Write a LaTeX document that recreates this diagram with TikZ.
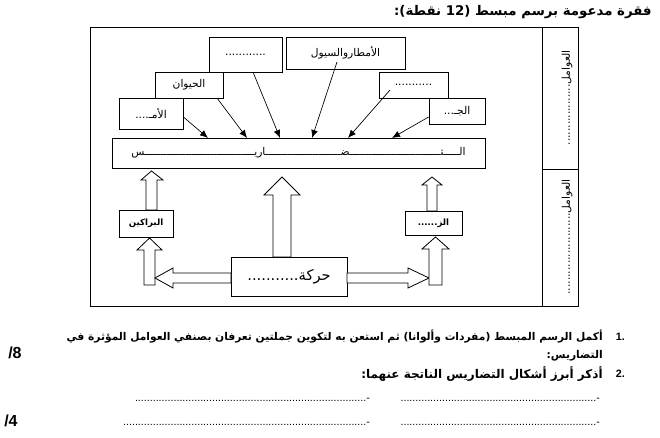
\documentclass[tikz,border=0pt]{standalone}
\usepackage{fontspec}
\setmainfont{Liberation Sans}
\newfontfamily\ar[Script=Arabic]{DejaVu Sans}
\TeXXeTstate=1
\usetikzlibrary{arrows.meta}
\newcount\dcnt
\newcommand\rdots[1]{\dcnt=0 \loop\ifnum\dcnt<#1 .\advance\dcnt by 1 \repeat}
\def\tatA{ـ}
\def\tatE{ـــــ}
\begin{document}
\begin{tikzpicture}[x=0.75pt,y=-0.75pt,
  frame/.style={line width=0.6pt},
  box/.style={draw, line width=0.6pt, fill=white, inner sep=0pt, font=\ar\fontsize{8}{9}\selectfont},
  lbl/.style={inner sep=0pt, font=\ar\fontsize{8}{9}\selectfont},
  thinarrow/.style={line width=0.5pt, -{Latex[length=6pt,width=5pt]}},
  blk/.style={draw, line width=0.6pt, fill=white, line join=miter},
  qtext/.style={inner sep=0pt, anchor=east, font=\ar\bfseries\fontsize{8}{9}\selectfont},
  dotline/.style={inner sep=0pt, anchor=east, font=\fontsize{8}{9}\selectfont},
]
\useasboundingbox (0,0) rectangle (660,438);
% title
\node[inner sep=0pt, anchor=east, font=\ar\bfseries\fontsize{10}{11}\selectfont] (title) at (652,12) {\beginR فقرة مدعومة برسم مبسط (12 نقطة):\endR};
% frame
\draw[frame] (90,27) rectangle (578,306);
\draw[frame] (542,27) -- (542,306);
\draw[frame] (542,169) -- (578,169);
\node[lbl, rotate=90] (c1) at (567,98) {\beginR العوامل..................\endR};
\node[lbl, rotate=90] (c2) at (567,237) {\beginR العوامل........................\endR};
% top boxes
\node[box, minimum width=48pt, minimum height=23.25pt] (A) at (151,113.5) {\beginR الأمـ....\endR};
\node[box, minimum width=51pt, minimum height=19.5pt] (B) at (189,85) {\beginR الحيوان\endR};
\node[box, minimum width=54.75pt, minimum height=26.25pt] (C) at (245.5,54.5) {............};
\node[box, minimum width=89.25pt, minimum height=24pt] (D) at (345.5,53) {\beginR الأمطاروالسيول\endR};
\node[box, minimum width=51.75pt, minimum height=19.5pt] (E) at (413.5,85) {...........};
\node[box, minimum width=42pt, minimum height=19.5pt] (F) at (457,111) {\beginR الجـ...\endR};
% main box
\node[box, minimum width=279.75pt, minimum height=22.5pt] (M) at (298.5,153) {\beginR ال\tatE ت\tatE\tatE\tatE\tatE\tatE\tatA\tatA\tatA\tatA ض\tatE\tatE\tatE\tatE\tatA\tatA\tatA\tatA اري\tatE\tatE\tatE\tatE\tatE\tatE\tatE س\endR};
% thin arrows
\coordinate (a4) at (337,62);
\coordinate (a5) at (390,90);
\coordinate (m1) at (208,138);
\coordinate (m2) at (247,138);
\coordinate (m3) at (280,138);
\coordinate (m4) at (312,138);
\coordinate (m5) at (348,138);
\coordinate (m6) at (392,138);
\draw[thinarrow] (A.east |- 0,117) -- (m1);
\draw[thinarrow] (217,98) -- (m2);
\draw[thinarrow] (253,72) -- (m3);
\draw[thinarrow] (a4) -- (m4);
\draw[thinarrow] (a5) -- (m5);
\draw[thinarrow] (F.west |- 0,117) -- (m6);
% lower boxes
\node[box, minimum width=40.5pt, minimum height=20.25pt, font=\ar\bfseries\fontsize{6.5}{7}\selectfont] (K) at (146,223.5) {\beginR البراكين\endR};
\node[box, minimum width=42.75pt, minimum height=18pt, font=\ar\bfseries\fontsize{6.5}{7}\selectfont] (Z) at (433.5,223) {\beginR الز......\endR};
\node[box, minimum width=87pt, minimum height=29.25pt, font=\ar\fontsize{11}{12}\selectfont] (H) at (289,276.5) {\beginR حركة...........\endR};
% block arrows
\draw[blk] (146,210) -- (146,180) -- (141,180) -- (151.5,171) -- (163,180) -- (157,180) -- (157,210) -- cycle;
\draw[blk] (144,285) -- (144,250) -- (137,250) -- (149.5,238) -- (162,250) -- (155,250) -- (155,285) -- cycle;
\draw[blk] (231,273) -- (173,273) -- (173,268) -- (155,278) -- (173,288) -- (173,283) -- (231,283) -- cycle;
\draw[blk] (273,257) -- (273,195) -- (264,195) -- (282,177) -- (300,195) -- (291,195) -- (291,257) -- cycle;
\draw[blk] (347,273) -- (408,273) -- (408,268) -- (429,278) -- (408,288) -- (408,283) -- (347,283) -- cycle;
\draw[blk] (429,285) -- (429,249) -- (422,249) -- (435.5,237) -- (449,249) -- (442,249) -- (442,285) -- cycle;
\draw[blk] (427,211) -- (427,185) -- (422,185) -- (432,177) -- (442,185) -- (437,185) -- (437,211) -- cycle;
% questions
\node[inner sep=0pt, anchor=east, font=\bfseries\fontsize{8}{9}\selectfont] (n1) at (625,337) {1.};
\node[qtext] (q1) at (603,337) {\beginR أكمل الرسم المبسط (مفردات وألوانا) ثم استعن به لتكوين جملتين تعرفان بصنفي العوامل المؤثرة في\endR};
\node[qtext] (q1b) at (603,356) {\beginR التضاريس:\endR};
\node[inner sep=0pt, anchor=east, font=\bfseries\fontsize{8}{9}\selectfont] (n2) at (625,374) {2.};
\node[qtext, font=\ar\bfseries\fontsize{9}{10}\selectfont] (q2) at (603,374) {\beginR أذكر أبرز أشكال التضاريس الناتجة عنهما:\endR};
\node[inner sep=0pt, anchor=west, font=\bfseries\fontsize{12}{13}\selectfont] (s8) at (8,353) {/8};
\node[inner sep=0pt, anchor=west, font=\bfseries\fontsize{12}{13}\selectfont] (s4) at (4,421) {/4};
\node[dotline] (d1) at (600,400) {\rdots{66}-};
\node[dotline] (d2) at (370,400) {\rdots{78}-};
\node[dotline] (d3) at (600,424) {\rdots{66}-};
\node[dotline] (d4) at (370,424) {\rdots{82}-};
\end{tikzpicture}
\end{document}
